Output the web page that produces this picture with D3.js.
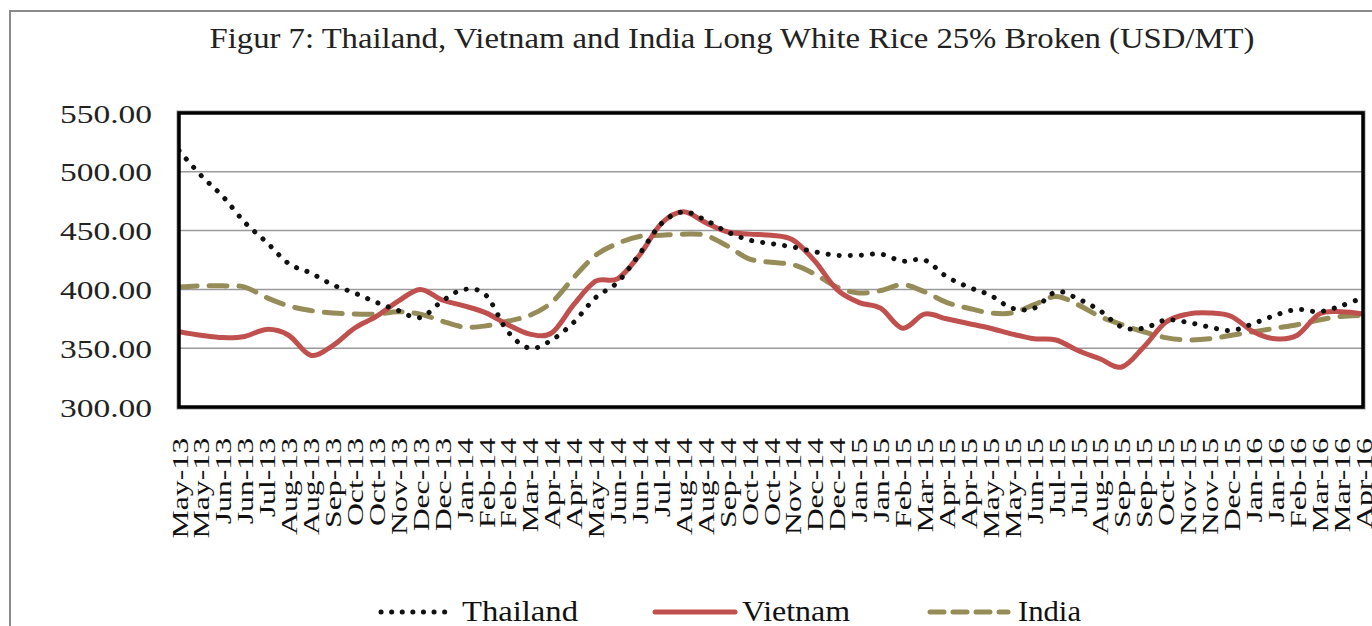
<!DOCTYPE html>
<html lang="en">
<head>
<meta charset="utf-8" />
<title>Figur 7: Thailand, Vietnam and India Long White Rice 25% Broken</title>
<script src="https://cdnjs.cloudflare.com/ajax/libs/d3/7.8.5/d3.min.js"></script>
<style>
  body { margin: 0; background: #fff; }
  svg { display: block; }
</style>
</head>
<body>
<script>
  /*************************** Data ***************************/

  var months = ["May-13","May-13","Jun-13","Jun-13","Jul-13","Aug-13","Aug-13","Sep-13","Oct-13","Oct-13",
    "Nov-13","Dec-13","Dec-13","Jan-14","Feb-14","Feb-14","Mar-14","Apr-14","Apr-14","May-14",
    "Jun-14","Jun-14","Jul-14","Aug-14","Aug-14","Sep-14","Oct-14","Oct-14","Nov-14","Dec-14",
    "Dec-14","Jan-15","Jan-15","Feb-15","Mar-15","Apr-15","Apr-15","May-15","May-15","Jun-15",
    "Jul-15","Jul-15","Aug-15","Sep-15","Sep-15","Oct-15","Nov-15","Nov-15","Dec-15","Jan-16",
    "Jan-16","Feb-16","Mar-16","Mar-16","Apr-16"];

  var thailand = [518,497,479,457,440,422,414,404,397,389,382,376,390,400,395,364,350,357,372,393,
    406,430,456,466,459,449,442,439,436,432,429,429,430,424,425,411,402,395,384,384,
    398,392,382,368,367,374,372,368,365,371,378,383,381,386,393];

  var vietnam = [364,361,359,360,366,361,344,352,367,377,390,400,391,386,380,370,362,363,387,407,
    409,429,456,466,457,449,447,446,442,424,400,389,384,367,379,375,371,367,362,358,
    357,348,341,334,351,372,379,380,377,364,358,361,379,381,379];

  var india = [402,403,403,402,393,386,382,380,379,379,381,379,373,368,369,373,378,389,410,429,
    439,445,446,447,446,437,426,423,421,413,402,397,399,404,398,389,384,380,380,387,
    394,387,377,370,364,359,357,358,361,364,367,370,374,377,378];

  var yTicks = [300, 350, 400, 450, 500, 550];

  /*************************** Layout ***************************/

  var W = 1372, H = 626;
  var plot = { left: 179, right: 1363, top: 113, bottom: 407 };
  var serif = "'Liberation Serif', 'DejaVu Serif', serif";

  var styles = {
    Thailand: { color: "#111", width: 5, dash: "0.1 11" },
    Vietnam:  { color: "#C0504D", width: 5, dash: null },
    India:    { color: "#968C58", width: 5, dash: "18 12" }
  };

  var svg = d3.select("body").append("svg").attr("width", W).attr("height", H);

  // outer chart frame
  svg.append("rect").attr("x", 10).attr("y", 11).attr("width", W + 10).attr("height", H + 10)
    .attr("fill", "#fff").attr("stroke", "#8a8a8a").attr("stroke-width", 2);

  // title
  svg.append("text").attr("x", 732).attr("y", 48).attr("text-anchor", "middle")
    .attr("textLength", 1045).attr("lengthAdjust", "spacingAndGlyphs")
    .style("font-family", serif).style("font-size", "30px").attr("fill", "#222")
    .text("Figur 7: Thailand, Vietnam and India Long White Rice 25% Broken (USD/MT)");

  /*************************** Scales ***************************/

  var x = d3.scalePoint().domain(d3.range(months.length)).range([plot.left, plot.right]).padding(0);
  var y = d3.scaleLinear().domain([300, 550]).range([plot.bottom, plot.top]);

  // gridlines
  svg.append("g").selectAll("line").data(yTicks.slice(1, -1)).join("line")
    .attr("x1", plot.left).attr("x2", plot.right)
    .attr("y1", d => y(d)).attr("y2", d => y(d))
    .attr("stroke", "#9a9a9a").attr("stroke-width", 1.5);

  // y axis
  var yAxis = svg.append("g").attr("transform", "translate(152,0)")
    .call(d3.axisLeft(y).tickValues(yTicks).tickFormat(d3.format(".2f")).tickSize(0).tickPadding(0));
  yAxis.select(".domain").remove();
  yAxis.selectAll("text")
    .attr("dy", "0.35em").attr("textLength", 92).attr("lengthAdjust", "spacingAndGlyphs")
    .style("font-family", serif).style("font-size", "26px").attr("fill", "#222");

  // x axis labels
  var xAxis = svg.append("g").attr("transform", "translate(0,438)")
    .call(d3.axisBottom(x).tickFormat(i => months[i]).tickSize(0).tickPadding(0));
  xAxis.select(".domain").remove();
  xAxis.selectAll("text")
    .attr("y", 0).attr("dy", "0.35em").attr("text-anchor", "end")
    .attr("transform", "rotate(-90) scale(1.38,1)")
    .style("font-family", serif).style("font-size", "23px").attr("fill", "#111");

  /*************************** Lines ***************************/

  var line = d3.line().x((d, i) => x(i)).y(d => y(d)).curve(d3.curveCardinal.tension(0));
  var seriesData = { Thailand: thailand, Vietnam: vietnam, India: india };

  svg.append("defs").append("clipPath").attr("id", "clip").append("rect")
    .attr("x", plot.left).attr("y", plot.top)
    .attr("width", plot.right - plot.left).attr("height", plot.bottom - plot.top);

  var lines = svg.append("g").attr("clip-path", "url(#clip)");
  ["India", "Vietnam", "Thailand"].forEach(function (name) {
    var s = styles[name];
    lines.append("path").datum(seriesData[name]).attr("d", line)
      .attr("fill", "none").attr("stroke", s.color).attr("stroke-width", s.width)
      .attr("stroke-linecap", "round").attr("stroke-linejoin", "round")
      .attr("stroke-dasharray", s.dash);
  });

  // plot frame
  svg.append("rect").attr("x", plot.left - 1.5).attr("y", plot.top - 1.5)
    .attr("width", plot.right - plot.left + 3).attr("height", plot.bottom - plot.top + 3)
    .attr("fill", "none").attr("stroke", "#999").attr("stroke-width", 2);
  svg.append("rect").attr("x", plot.left).attr("y", plot.top)
    .attr("width", plot.right - plot.left).attr("height", plot.bottom - plot.top)
    .attr("fill", "none").attr("stroke", "#000").attr("stroke-width", 3.5);

  /*************************** Legend ***************************/

  var legendPos = [
    { name: "Thailand", x1: 381, x2: 452, tx: 462, tw: 116, dash: "0.1 10.5" },
    { name: "Vietnam",  x1: 655, x2: 735, tx: 742, tw: 108, dash: null },
    { name: "India",    x1: 930, x2: 1008, tx: 1018, tw: 63, dash: "14 9" }
  ];
  var legend = svg.append("g");
  legendPos.forEach(function (p) {
    var s = styles[p.name];
    legend.append("line").attr("x1", p.x1).attr("x2", p.x2).attr("y1", 612).attr("y2", 612)
      .attr("stroke", s.color).attr("stroke-width", s.width)
      .attr("stroke-linecap", "round").attr("stroke-dasharray", p.dash);
    legend.append("text").attr("x", p.tx).attr("y", 621)
      .attr("textLength", p.tw).attr("lengthAdjust", "spacingAndGlyphs")
      .style("font-family", serif).style("font-size", "30px").attr("fill", "#111")
      .text(p.name);
  });
</script>
</body>
</html>
